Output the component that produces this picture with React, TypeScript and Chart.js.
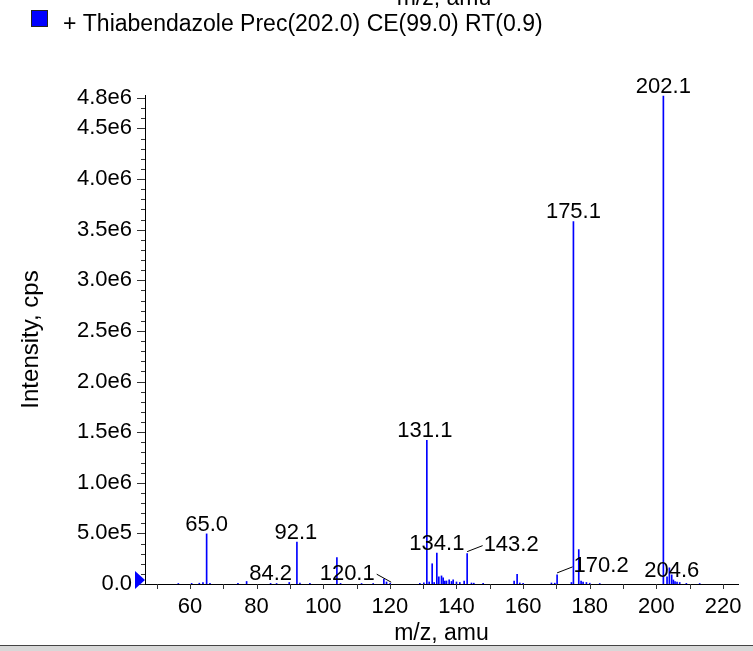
import React, { useEffect, useRef } from "react";
import { Chart, registerables } from "chart.js";

Chart.register(...registerables);

// ---- data ----
const mzValues = [
  56.5, 60.5, 62.8, 63.9, 65.0, 66.0, 74.4, 77.0, 84.2, 86.0, 89.8, 92.1, 93.0, 96.0,
  104.1, 105.2, 111.5, 115.0, 118.2, 119.0, 120.1, 129.0, 130.2, 131.1, 131.8, 132.7,
  133.3, 134.1, 134.7, 135.5, 136.0, 136.5, 137.0, 137.8, 138.5, 139.0, 140.0, 141.0,
  142.3, 143.2, 144.5, 145.2, 148.0, 157.3, 158.2, 159.0, 160.0, 168.5, 169.5, 170.2,
  174.5, 175.1, 176.7, 177.4, 178.0, 179.0, 180.0, 183.0, 202.1, 203.2, 203.9, 204.6,
  205.1, 205.6, 206.2, 207.0, 209.0, 213.0,
];
const intensities = [
  5e3, 6e3, 8e3, 1.5e4, 4.95e5, 6e3, 6e3, 2.5e4, 6e3, 5e3, 1.5e4, 4.15e5, 1e4, 6e3,
  2.6e5, 6e3, 5e3, 5e3, 4.8e4, 2e4, 8e3, 6e3, 1.2e4, 1.42e6, 2e4, 2.0e5,
  1.5e4, 3.05e5, 7e4, 8e4, 6e4, 3e4, 3e4, 4e4, 2.5e4, 4e4, 2e4, 1.5e4,
  3e4, 3.0e5, 1e4, 8e3, 6e3, 3e4, 9.5e4, 1e4, 6e3, 1e4, 8e3, 9e4,
  1.5e4, 3.58e6, 3.4e5, 3e4, 2e4, 1.5e4, 8e3, 5e3, 4.82e6, 7e4, 1.6e5, 9e4,
  4e4, 2.5e4, 2e4, 1.5e4, 6e3, 5e3,
];
const peakLabels = ["65.0", "84.2", "92.1", "120.1", "131.1", "134.1", "143.2", "170.2", "175.1", "202.1", "204.6"];
const yTickValues = [0, 5e5, 1e6, 1.5e6, 2e6, 2.5e6, 3e6, 3.5e6, 4e6, 4.5e6, 4.8e6];
const xTickValues = [60, 80, 100, 120, 140, 160, 180, 200, 220];
const legendText = "+ Thiabendazole Prec(202.0) CE(99.0) RT(0.9)";
const xTitle = "m/z, amu";
const yTitle = "Intensity, cps";

// label placement tweaks (pixels): dx, dy, leader side
const labelLayout: Record<string, { dx: number; dy: number; leader?: "left" | "right" }> = {
  "65.0": { dx: 0, dy: 0 },
  "84.2": { dx: 0, dy: 0 },
  "92.1": { dx: -1, dy: 0 },
  "120.1": { dx: -43, dy: 0, leader: "right" },
  "131.1": { dx: -2, dy: 0 },
  "134.1": { dx: 0, dy: 0 },
  "143.2": { dx: 44, dy: 0, leader: "left" },
  "170.2": { dx: 44, dy: 0, leader: "left" },
  "175.1": { dx: 0, dy: -1 },
  "202.1": { dx: 0, dy: 0 },
  "204.6": { dx: 0, dy: 5 },
};

const FONT = '"Liberation Sans", Arial, Helvetica, sans-serif';

function fmtY(v: number): string {
  if (v === 0) return "0.0";
  if (v < 1e6) return (v / 1e5).toFixed(1) + "e5";
  return (v / 1e6).toFixed(1) + "e6";
}

const decorPlugin = {
  id: "decor",
  afterDraw(chart: any) {
    const ctx = chart.ctx as CanvasRenderingContext2D;
    const xs = chart.scales.x;
    const ys = chart.scales.y;
    const area = chart.chartArea;
    const y0 = ys.getPixelForValue(0);
    ctx.save();
    // x ticks every 10
    ctx.strokeStyle = "#333";
    ctx.lineWidth = 1;
    ctx.beginPath();
    for (let v = 50; v <= 220; v += 10) {
      const px = Math.round(xs.getPixelForValue(v)) + 0.5;
      ctx.moveTo(px, y0);
      ctx.lineTo(px, y0 + 5);
    }
    // y minor ticks every 1e5
    for (let v = 0; v <= 4.8e6 + 1; v += 1e5) {
      const py = Math.round(ys.getPixelForValue(v)) + 0.5;
      const major = yTickValues.some((t) => Math.abs(t - v) < 1);
      ctx.moveTo(area.left - (major ? 8 : 4), py);
      ctx.lineTo(area.left, py);
    }
    ctx.stroke();

    // blue marker triangle at baseline
    ctx.fillStyle = "#0000ff";
    ctx.beginPath();
    ctx.moveTo(area.left - 10, y0 - 13);
    ctx.lineTo(area.left, y0 - 4);
    ctx.lineTo(area.left - 10, y0 + 5);
    ctx.closePath();
    ctx.fill();

    // peak labels
    ctx.fillStyle = "#000";
    ctx.font = "22px " + FONT;
    ctx.textAlign = "center";
    ctx.textBaseline = "alphabetic";
    peakLabels.forEach((txt) => {
      const mz = parseFloat(txt);
      let idx = 0;
      let best = Infinity;
      mzValues.forEach((m, i) => {
        if (Math.abs(m - mz) < best) {
          best = Math.abs(m - mz);
          idx = i;
        }
      });
      const px = xs.getPixelForValue(mzValues[idx]);
      const py = ys.getPixelForValue(intensities[idx]);
      const lay = labelLayout[txt];
      const cx = px + lay.dx;
      const base = py - 3 + lay.dy;
      ctx.fillText(txt, cx, base);
      if (lay.leader) {
        const w = ctx.measureText(txt).width;
        ctx.beginPath();
        ctx.strokeStyle = "#000";
        if (lay.leader === "right") {
          ctx.moveTo(cx + w / 2 + 2, base - 6);
          ctx.lineTo(px + 1, py - 1);
        } else {
          ctx.moveTo(cx - w / 2 - 1, base - 5);
          ctx.lineTo(px, py - 2);
        }
        ctx.stroke();
      }
    });

    // axis titles
    ctx.font = "23px " + FONT;
    ctx.textAlign = "center";
    ctx.fillText(xTitle, (area.left + area.right) / 2, 640);
    ctx.fillText(xTitle, 444, 5);
    ctx.save();
    ctx.font = "24px " + FONT;
    ctx.translate(38, (area.top + area.bottom) / 2);
    ctx.rotate(-Math.PI / 2);
    ctx.fillText(yTitle, 0, 0);
    ctx.restore();

    // legend
    ctx.fillStyle = "#0000ff";
    ctx.fillRect(31, 10, 17, 17);
    ctx.strokeStyle = "#222";
    ctx.strokeRect(31.5, 10.5, 16, 16);
    ctx.fillStyle = "#000";
    ctx.textAlign = "left";
    ctx.font = "23px " + FONT;
    ctx.fillText(legendText, 63, 31);

    // bottom frame line
    ctx.fillStyle = "#444";
    ctx.fillRect(0, 645, 753, 1);
    ctx.fillStyle = "#d8d8d8";
    ctx.fillRect(0, 646, 753, 5);
    ctx.restore();
  },
};

export default function App() {
  const ref = useRef<HTMLCanvasElement | null>(null);
  useEffect(() => {
    if (!ref.current) return;
    const chart = new Chart(ref.current, {
      type: "bar",
      data: {
        datasets: [
          {
            data: mzValues.map((x, i) => ({ x, y: intensities[i] })),
            backgroundColor: "#0000ff",
            borderWidth: 0,
            barThickness: 1,
          } as any,
        ],
      },
      options: {
        animation: false,
        responsive: false,
        devicePixelRatio: 1,
        layout: { padding: { left: 0, right: 15, top: 95, bottom: 0 } },
        plugins: { legend: { display: false }, tooltip: { enabled: false }, title: { display: false } },
        scales: {
          x: {
            type: "linear",
            min: 46.5,
            max: 224.5,
            offset: false,
            grid: { display: false, drawTicks: false },
            border: { display: true, color: "#000", width: 1 },
            ticks: {
              padding: 10,
              color: "#000",
              font: { family: FONT, size: 22 },
              maxRotation: 0,
              autoSkip: false,
              callback: (v: any) => String(v),
            },
            afterBuildTicks: (s: any) => {
              s.ticks = xTickValues.map((v) => ({ value: v }));
            },
            afterFit: (s: any) => {
              s.height = 651 - 584;
            },
          },
          y: {
            type: "linear",
            min: 0,
            max: 4.83e6,
            grid: { display: false, drawTicks: false },
            border: { display: true, color: "#000", width: 1 },
            ticks: {
              padding: 13,
              color: "#000",
              font: { family: FONT, size: 22 },
              autoSkip: false,
              callback: (v: any) => fmtY(Number(v)),
            },
            afterBuildTicks: (s: any) => {
              s.ticks = yTickValues.map((v) => ({ value: v }));
            },
            afterFit: (s: any) => {
              s.width = 145;
            },
          },
        } as any,
      },
      plugins: [decorPlugin],
    });
    return () => chart.destroy();
  }, []);
  return (
    <div style={{ position: "absolute", left: 0, top: 0, width: 753, height: 651, background: "#fff" }}>
      <canvas ref={ref} width={753} height={651} style={{ display: "block", width: 753, height: 651 }} />
    </div>
  );
}
